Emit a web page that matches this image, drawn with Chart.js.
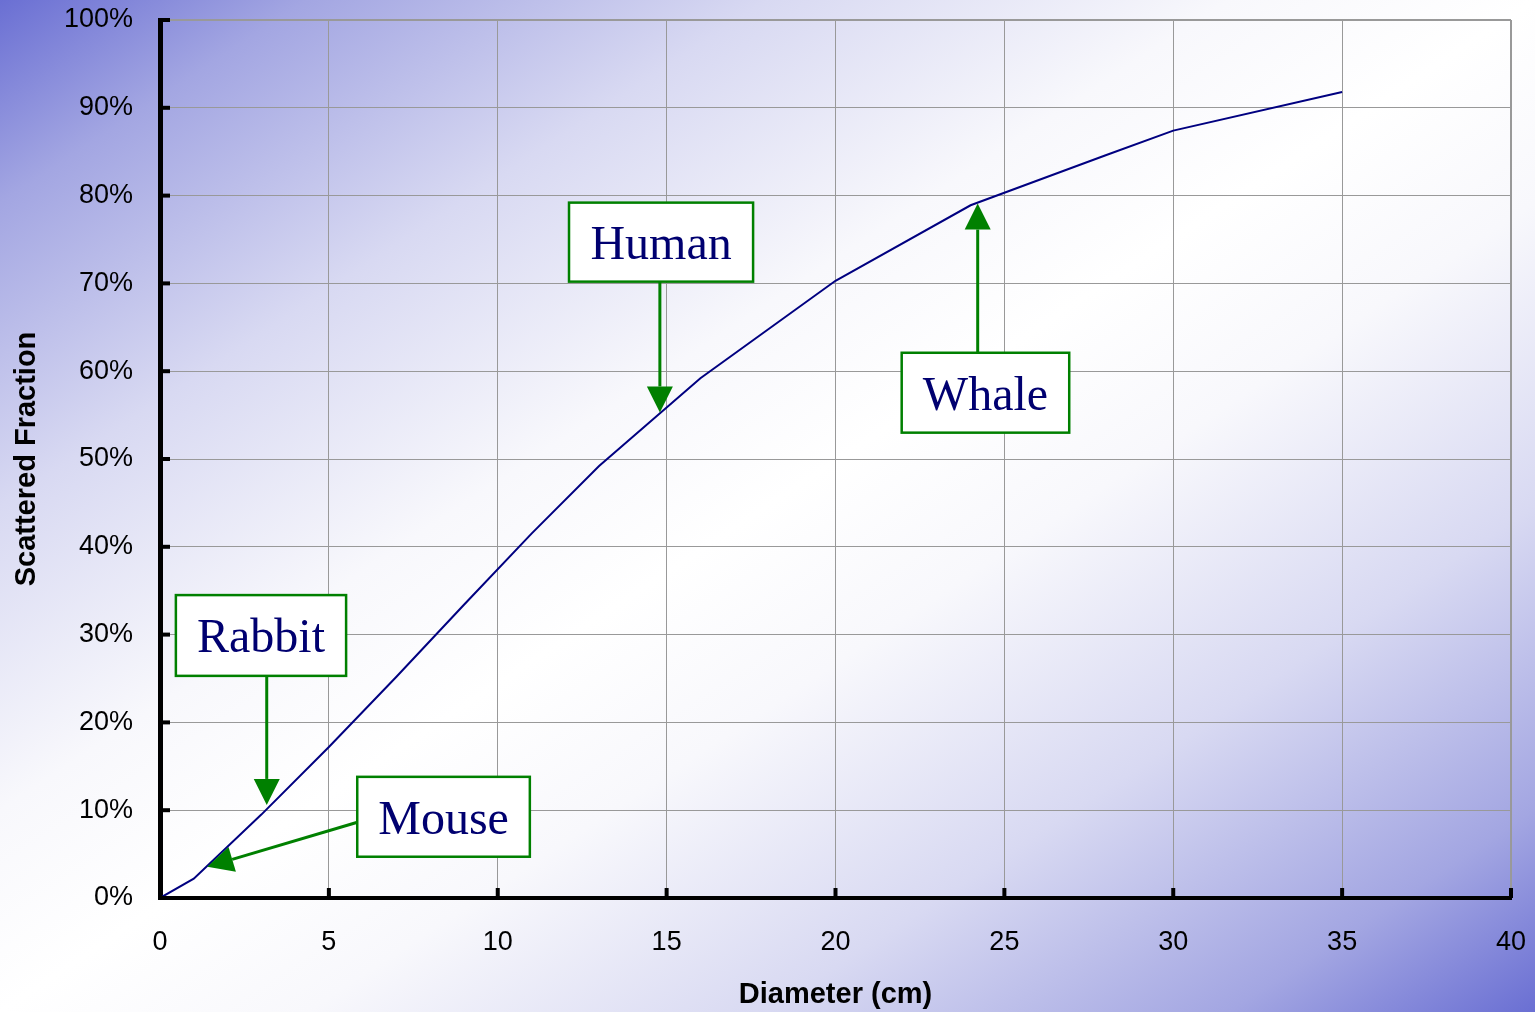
<!DOCTYPE html>
<html>
<head>
<meta charset="utf-8">
<title>Scattered Fraction vs Diameter</title>
<script src="https://cdn.jsdelivr.net/npm/chart.js@4.4.1/dist/chart.umd.min.js"></script>
<style>
  html, body { margin: 0; padding: 0; }
  #wrap { position: relative; width: 1535px; height: 1012px; }
</style>
</head>
<body>
<div id="wrap"><canvas id="scatter-chart"></canvas></div>
<script>
// scattered fraction (%) against object diameter (cm)
const diameters = [0, 1, 3, 5, 7, 9, 11, 13, 16, 20, 24, 28, 30, 35];
const scatteredFraction = [0, 2.2, 9.5, 17.2, 25.2, 33.4, 41.5, 49.2, 59.2, 70.3, 78.9, 84.6, 87.4, 91.8];

const xTicks = [0, 5, 10, 15, 20, 25, 30, 35, 40];
const yTicks = [0, 10, 20, 30, 40, 50, 60, 70, 80, 90, 100];

// callout boxes: box corners and arrow ends in axis units
const callouts = [
  { label: 'Human',  box: [12.11, 79.2, 17.56, 70.2], from: [14.8, 70.2], to: [14.8, 55.3] },
  { label: 'Whale',  box: [21.96, 62.1, 26.92, 53.0], from: [24.21, 62.1], to: [24.21, 79.1] },
  { label: 'Rabbit', box: [0.47, 34.5, 5.51, 25.3],   from: [3.16, 25.3],  to: [3.16, 10.6] },
  { label: 'Mouse',  box: [5.84, 13.8, 10.95, 4.7],   from: [5.82, 8.6],   to: [1.40, 3.56] }
];

const green = '#008000';
const navy = '#000070';

const backdrop = {
  id: 'backdrop',
  beforeDraw(chart) {
    const { ctx, width, height } = chart;
    const g = ctx.createLinearGradient(0, 0, 930, 1411);
    g.addColorStop(0, '#6a6fd3');
    g.addColorStop(0.1, '#a3a6e2');
    g.addColorStop(0.25, '#d8d9f2');
    g.addColorStop(0.4, '#f8f8fc');
    g.addColorStop(0.5, '#ffffff');
    g.addColorStop(0.6, '#f8f8fc');
    g.addColorStop(0.75, '#d8d9f2');
    g.addColorStop(0.9, '#a3a6e2');
    g.addColorStop(1, '#6a6fd3');
    ctx.save();
    ctx.fillStyle = g;
    ctx.fillRect(0, 0, width, height);
    ctx.restore();
  }
};

// short black tick marks drawn inward from both axes
const innerTicks = {
  id: 'innerTicks',
  afterDraw(chart) {
    const { ctx, chartArea, scales } = chart;
    ctx.save();
    ctx.strokeStyle = '#000';
    ctx.lineWidth = 4;
    yTicks.forEach(v => {
      const y = scales.y.getPixelForValue(v);
      ctx.beginPath();
      ctx.moveTo(chartArea.left, y);
      ctx.lineTo(chartArea.left + 10, y);
      ctx.stroke();
    });
    xTicks.forEach(v => {
      const x = scales.x.getPixelForValue(v);
      ctx.beginPath();
      ctx.moveTo(x, chartArea.bottom);
      ctx.lineTo(x, chartArea.bottom - 10);
      ctx.stroke();
    });
    ctx.restore();
  }
};

const calloutPlugin = {
  id: 'callouts',
  afterDatasetsDraw(chart) {
    const { ctx, scales } = chart;
    const px = v => scales.x.getPixelForValue(v);
    const py = v => scales.y.getPixelForValue(v);
    ctx.save();
    callouts.forEach(c => {
      const x1 = px(c.box[0]), y1 = py(c.box[1]);
      const x2 = px(c.box[2]), y2 = py(c.box[3]);
      ctx.fillStyle = '#ffffff';
      ctx.fillRect(x1, y1, x2 - x1, y2 - y1);
      ctx.strokeStyle = green;
      ctx.lineWidth = 2.5;
      ctx.strokeRect(x1, y1, x2 - x1, y2 - y1);

      ctx.fillStyle = navy;
      ctx.font = '48px "Liberation Serif", "Times New Roman", serif';
      ctx.textAlign = 'center';
      ctx.textBaseline = 'alphabetic';
      ctx.fillText(c.label, (x1 + x2) / 2, (y1 + y2) / 2 + 17);

      // arrow
      const fx = px(c.from[0]), fy = py(c.from[1]);
      const tx = px(c.to[0]), ty = py(c.to[1]);
      const ang = Math.atan2(ty - fy, tx - fx);
      const headLen = 26, headHalf = 13;
      const bx = tx - Math.cos(ang) * headLen, by = ty - Math.sin(ang) * headLen;
      ctx.strokeStyle = green;
      ctx.lineWidth = 3;
      ctx.beginPath();
      ctx.moveTo(fx, fy);
      ctx.lineTo(bx, by);
      ctx.stroke();
      ctx.fillStyle = green;
      ctx.beginPath();
      ctx.moveTo(tx, ty);
      ctx.lineTo(bx + Math.sin(ang) * headHalf, by - Math.cos(ang) * headHalf);
      ctx.lineTo(bx - Math.sin(ang) * headHalf, by + Math.cos(ang) * headHalf);
      ctx.closePath();
      ctx.fill();
    });
    ctx.restore();
  }
};

const tickFont = { family: '"Liberation Sans", Arial, sans-serif', size: 27 };
const titleFont = { family: '"Liberation Sans", Arial, sans-serif', size: 29, weight: 'bold' };

new Chart(document.getElementById('scatter-chart'), {
  type: 'line',
  data: {
    datasets: [{
      label: 'Scattered Fraction',
      data: diameters.map((d, i) => ({ x: d, y: scatteredFraction[i] })),
      borderColor: '#000080',
      borderWidth: 2,
      pointRadius: 0,
      tension: 0,
      fill: false
    }]
  },
  options: {
    responsive: true,
    maintainAspectRatio: false,
    animation: false,
    layout: { padding: { left: 0, top: 20, right: 24, bottom: 0 } },
    plugins: {
      legend: { display: false },
      tooltip: { enabled: false }
    },
    scales: {
      x: {
        type: 'linear',
        min: 0,
        max: 40,
        afterBuildTicks: scale => { scale.ticks = xTicks.map(v => ({ value: v })); },
        afterFit: scale => {
          scale.height = 114;
          scale.paddingLeft = 0;
          scale.paddingRight = 0;
        },
        ticks: { font: tickFont, color: '#000', padding: 28, maxRotation: 0 },
        grid: {
          color: '#999',
          lineWidth: ctx => (ctx.tick && ctx.tick.value === 40 ? 2 : 1),
          drawTicks: false
        },
        border: { color: '#000', width: 4 },
        title: {
          display: true,
          text: 'Diameter (cm)',
          font: titleFont,
          color: '#000',
          padding: { top: 0, bottom: 0 }
        }
      },
      y: {
        type: 'linear',
        min: 0,
        max: 100,
        afterBuildTicks: scale => { scale.ticks = yTicks.map(v => ({ value: v })); },
        afterFit: scale => {
          scale.width = 160;
          scale.paddingTop = 0;
          scale.paddingBottom = 0;
        },
        ticks: {
          font: tickFont,
          color: '#000',
          padding: 27,
          callback: v => v + '%'
        },
        grid: {
          color: '#999',
          lineWidth: ctx => (ctx.tick && ctx.tick.value === 100 ? 2 : 1),
          drawTicks: false
        },
        border: { color: '#000', width: 5 },
        title: {
          display: true,
          text: 'Scattered Fraction',
          font: titleFont,
          color: '#000',
          padding: { top: 10, bottom: 0 }
        }
      }
    }
  },
  plugins: [backdrop, innerTicks, calloutPlugin]
});
</script>
</body>
</html>
